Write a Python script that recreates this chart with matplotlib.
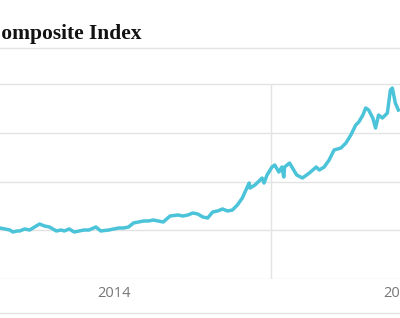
import matplotlib
matplotlib.use('Agg')
import matplotlib.pyplot as plt
from matplotlib.lines import Line2D

# index level, decimal years
years = [2014.014, 2014.032, 2014.050, 2014.061, 2014.076, 2014.086, 2014.104, 2014.122,
         2014.140, 2014.158, 2014.176, 2014.194, 2014.219, 2014.237, 2014.248, 2014.266,
         2014.284, 2014.302, 2014.320, 2014.338, 2014.363, 2014.381, 2014.410, 2014.428,
         2014.446, 2014.464, 2014.482, 2014.500, 2014.518, 2014.536, 2014.554, 2014.572,
         2014.590, 2014.608, 2014.633, 2014.662, 2014.680, 2014.698, 2014.716, 2014.734,
         2014.752, 2014.770, 2014.788, 2014.806, 2014.824, 2014.842, 2014.860, 2014.878,
         2014.896, 2014.914, 2014.921, 2014.924, 2014.942, 2014.957, 2014.968, 2014.975,
         2014.986, 2015.004, 2015.014, 2015.029, 2015.040, 2015.047, 2015.050, 2015.068,
         2015.083, 2015.094, 2015.115, 2015.140, 2015.165, 2015.176, 2015.194, 2015.212,
         2015.230, 2015.255, 2015.273, 2015.291, 2015.309, 2015.320, 2015.335, 2015.345,
         2015.356, 2015.371, 2015.381, 2015.392, 2015.406, 2015.424, 2015.435, 2015.442,
         2015.453, 2015.464]
index = [2046, 2026, 2005, 1964, 1985, 1985, 2026, 2005,
         2067, 2128, 2087, 2067, 1985, 2005, 1985, 2026,
         1964, 1985, 2005, 2005, 2067, 1985, 2005, 2026,
         2046, 2046, 2067, 2149, 2169, 2190, 2190, 2210,
         2190, 2169, 2292, 2313, 2292, 2313, 2354, 2333,
         2272, 2251, 2374, 2395, 2436, 2395, 2415, 2518,
         2661, 2887, 2969, 2866, 2928, 3010, 3072, 2969,
         3133, 3297, 3338, 3195, 3297, 3092, 3297, 3379,
         3236, 3133, 3072, 3174, 3297, 3236, 3297, 3441,
         3646, 3687, 3789, 3953, 4159, 4220, 4364, 4508,
         4466, 4302, 4097, 4364, 4302, 4405, 4876, 4917,
         4610, 4466]

grid_levels = [1000, 2000, 3000, 4000, 5000]
tick_pos = [2014.43, 2015.47]
tick_labels = ['2014', '2015']

line_col = '#4bc3d9'
grid_col = '#e3e3e3'

fig = plt.figure(figsize=(4, 3.18), dpi=100)
H = 318.0
ax = fig.add_axes([0, 1 - 279 / H, 1, (279 - 60) / H])
ax.set_xlim(2014.014, 2015.453)
ax.set_ylim(1000, 1000 + (279 - 60) * 1000 / 48.75)

for lv in grid_levels:
    ax.axhline(lv, color=grid_col, lw=1, zorder=1)
ax.vlines(2015.0, 1000, 5000, color=grid_col, lw=1, zorder=1)

ax.plot(years, index, color=line_col, lw=2.5, solid_joinstyle='round', zorder=3)

for s in ax.spines.values():
    s.set_visible(False)
ax.set_yticks([])
ax.set_xticks(tick_pos)
ax.set_xticklabels(tick_labels, fontfamily='Open Sans', fontsize=10.5, color='#767676')
ax.tick_params(axis='x', length=0, pad=5)

# title (cropped on the left like the source)
fig.text(142 / 400, 1 - 39 / H, 'Shanghai Composite Index', ha='right', va='baseline',
         fontfamily='Liberation Serif', fontweight='bold', fontsize=15.5, color='#121212')
fig.add_artist(Line2D([0, 1], [1 - 48 / H] * 2, color=grid_col, lw=1))
fig.add_artist(Line2D([0, 1], [1 - 313 / H] * 2, color=grid_col, lw=1))

fig.savefig('out.png', dpi=100)
